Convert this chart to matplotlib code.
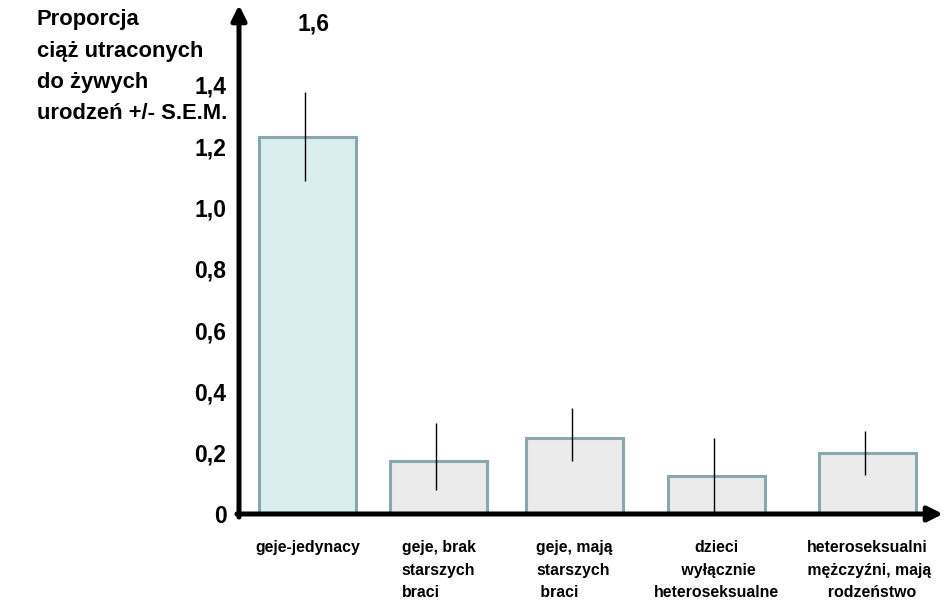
import matplotlib.pyplot as plt
import matplotlib.transforms as mtransforms

plt.rcParams['font.family'] = ['Liberation Sans', 'DejaVu Sans']
plt.rcParams['font.weight'] = 'bold'

# data
groups = ['geje-jedynacy',
          'geje, brak\nstarszych\nbraci',
          'geje, mają\nstarszych\n braci',
          'dzieci\n wyłącznie\nheteroseksualne',
          'heteroseksualni\n mężczyźni, mają\n  rodzeństwo']
ratio = [1.229, 0.174, 0.247, 0.124, 0.200]
err_low = [1.087, 0.078, 0.174, 0.0, 0.126]
err_high = [1.378, 0.296, 0.345, 0.247, 0.272]
yticks = [0, 0.2, 0.4, 0.6, 0.8, 1.0, 1.2, 1.4]
ytick_labels = ['0', '0,2', '0,4', '0,6', '0,8', '1,0', '1,2', '1,4']

# layout (bar centres are not evenly spaced in the original)
xpos = [0, 1.0, 2.038, 3.122, 4.275]
fills = ['#DAEEF0', '#EBEBEB', '#EBEBEB', '#EBEBEB', '#EBEBEB']
aligns = ['center', 'left', 'left', 'center', 'center']

fig = plt.figure(figsize=(9.45, 6), dpi=100)
ax = fig.add_axes([239/945, 86/600, (943-239)/945, (514-5)/600])

ax.bar(xpos, ratio, width=0.74, color=fills, edgecolor='#8BA7AE', linewidth=2.2, zorder=2)
for x, lo, hi in zip(xpos, err_low, err_high):
    ax.vlines(x - 0.02, lo, hi, color='black', lw=1, zorder=3)

ax.set_xlim(-0.523, 4.851)
ax.set_ylim(0, 1.661)
ax.set_yticks(yticks)
ax.set_yticklabels(ytick_labels, fontsize=16.5, fontweight='bold')
ax.tick_params(axis='y', length=0, pad=9)
ax.set_xticks(xpos)
ax.set_xticklabels(groups, fontsize=11.4, fontweight='bold', va='top', linespacing=1.62)
for lab, al in zip(ax.get_xticklabels(), aligns):
    lab.set_multialignment(al)
ax.tick_params(axis='x', length=0, pad=19)

for s in ax.spines.values():
    s.set_visible(False)

# axes drawn as arrows
ax.annotate('', xy=(0, 1), xytext=(0, -0.006), xycoords='axes fraction',
            arrowprops=dict(arrowstyle='-|>', lw=3.6, color='black', mutation_scale=22,
                            shrinkA=0, shrinkB=0), annotation_clip=False)
ax.annotate('', xy=(1, 0), xytext=(-0.003, 0), xycoords='axes fraction',
            arrowprops=dict(arrowstyle='-|>', lw=3.6, color='black', mutation_scale=22,
                            shrinkA=0, shrinkB=0), annotation_clip=False)

trans = mtransforms.blended_transform_factory(ax.transAxes, ax.transData)
ax.text(0.1065, 1.6, '1,6', transform=trans, ha='center', va='center',
        fontsize=16.5, fontweight='bold')

ylab = ['Proporcja', 'ciąż utraconych', 'do żywych', 'urodzeń +/- S.E.M.']
for i, line in enumerate(ylab):
    fig.text(37/945, 1 - (20 + i*31.3)/600, line, ha='left', va='center',
             fontsize=15.8, fontweight='bold')

fig.savefig('out.png', dpi=100)
